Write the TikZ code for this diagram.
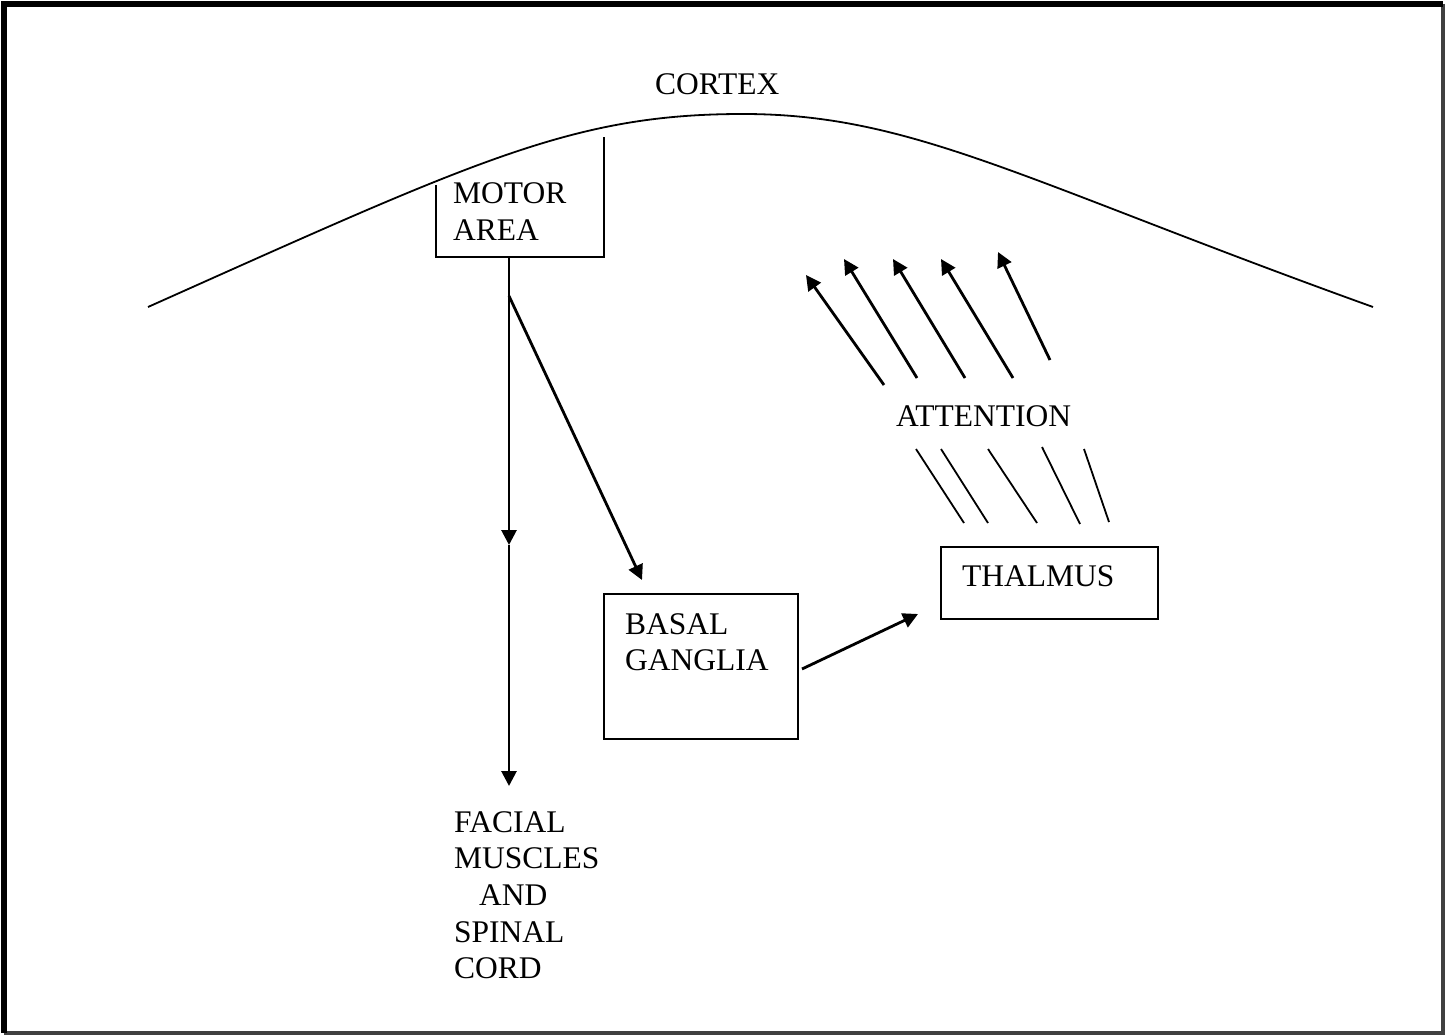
\documentclass[tikz,border=0pt]{standalone}
\usepackage{fontspec}
\setmainfont{Liberation Serif}
\usetikzlibrary{arrows.meta}
\begin{document}
\begin{tikzpicture}[x=1pt,y=-1pt,
  lbl/.style={anchor=base west,inner sep=0pt,font=\fontsize{31.5}{37}\selectfont},
  thin line/.style={line width=1.8pt},
  arr/.style={line width=2.8pt,-{Triangle[length=15pt,width=15pt]}},
  boxshape/.style={draw,line width=2pt,rectangle,inner sep=0pt}]
\useasboundingbox (0,0) rectangle (1446,1035);
% outer frame
\draw[line width=4pt,black!75] (1443,4) -- (1443,1033) -- (4,1033);
\draw[line width=6pt] (4,1033) -- (4,4) -- (1443,4);

% cortex outline
\coordinate (cl) at (148,307);
\coordinate (ctop) at (743,114);
\coordinate (cr) at (1373,307);
\draw[thin line] (cl) .. controls (478,159.5) and (573,114) .. (ctop)
                      .. controls (913,114) and (1023,181) .. (cr);
\node[lbl] (cortex) at (655,95) {CORTEX};

% motor area bracket
\coordinate (mtl) at (436,185);
\coordinate (mbl) at (436,257);
\coordinate (mbm) at (509,257);
\coordinate (mbr) at (604,257);
\coordinate (mtr) at (604,137);
\draw[thin line] (mtl) -- (mbl) -- (mbr) -- (mtr);
\node[lbl] (motor) at (453,204) {MOTOR};
\node[lbl] (area) at (453,241) {AREA};

% descending pathway
\coordinate (mid) at (509,545);
\coordinate (fork) at (509,296);
\coordinate (muscle) at (509,786);
\coordinate (bgin) at (642,580);
\draw[arr] (mbm) -- (mid);
\draw[arr] (mid) -- (muscle);
\draw[arr] (fork) -- (bgin);

\node[lbl] (facial) at (454,832) {FACIAL};
\node[lbl] (muscles) at (454,868) {MUSCLES};
\node[lbl] (and) at (479,905) {AND};
\node[lbl] (spinal) at (454,942) {SPINAL};
\node[lbl] (cord) at (454,978) {CORD};

% basal ganglia
\node[boxshape,minimum width=194pt,minimum height=145pt,anchor=north west] (bg) at (603,593) {};
\node[lbl] (basal) at (625,634) {BASAL};
\node[lbl] (ganglia) at (625,670) {GANGLIA};

% thalamus
\node[boxshape,minimum width=217pt,minimum height=72pt,anchor=north west] (th) at (940,546) {};
\node[lbl] (thal) at (962,586) {THALMUS};

\coordinate (bgout) at (802,669);
\coordinate (thin) at (918,614);
\draw[arr] (bgout) -- (thin);

% attention fibres
\node[lbl] (att) at (896,426) {ATTENTION};
\foreach \i/\ax/\ay/\bx/\by in {1/916/449/964/523, 2/941/449/988/523, 3/988/449/1037/523, 4/1042/447/1080/524, 5/1084/449/1109/522}{
  \coordinate (f\i a) at (\ax,\ay);
  \coordinate (f\i b) at (\bx,\by);
  \draw[thin line] (f\i a) -- (f\i b);
}
\foreach \i/\ax/\ay/\bx/\by in {1/884/385/806/275, 2/917/378/844/259, 3/965/378/893/259, 4/1013/378/941/259, 5/1050/360/998/252}{
  \coordinate (u\i a) at (\ax,\ay);
  \coordinate (u\i b) at (\bx,\by);
  \draw[arr] (u\i a) -- (u\i b);
}
\end{tikzpicture}
\end{document}
